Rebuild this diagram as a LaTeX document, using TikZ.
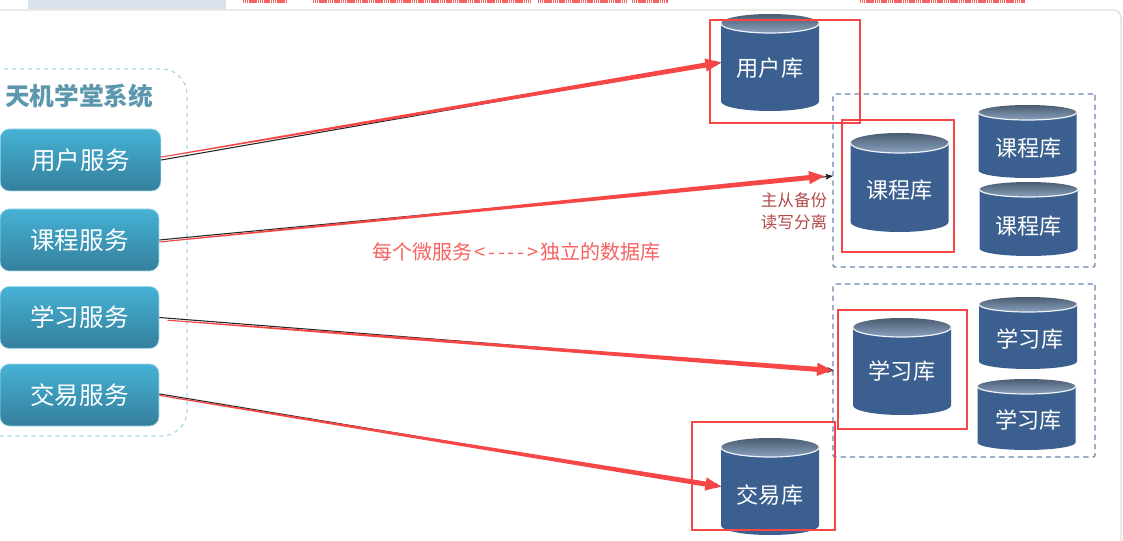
\documentclass[tikz,border=0pt]{standalone}
\usepackage{fontspec}
\setmainfont{Noto Sans CJK SC}
\usepackage{tikz}
\usetikzlibrary{arrows,calc,fit,positioning}
\definecolor{svctop}{HTML}{46B2D5}
\definecolor{svcbot}{HTML}{347F9C}
\definecolor{framecyan}{HTML}{A9D6E5}
\definecolor{titlecyan}{HTML}{5C97AD}
\definecolor{dbblue}{HTML}{3B5F8F}
\definecolor{dbdark}{HTML}{4A5C70}
\definecolor{dblight}{HTML}{8AA1BE}
\definecolor{dashblue}{HTML}{6A85AE}
\definecolor{markred}{HTML}{F64646}
\definecolor{notered}{HTML}{B24A4A}
\definecolor{stripblue}{HTML}{D9E2EA}
\tikzset{
  >=stealth',
  svcbox/.style={rectangle,rounded corners=7pt,draw=svctop!50!white,line width=0.5pt,top color=svctop,
                 bottom color=svcbot,text=white,minimum height=46.5pt,font=\fontsize{18.4}{22}\selectfont},
  dbtext/.style={text=white,font=\fontsize{16.6}{20}\selectfont},
  redframe/.style={rectangle,draw=markred,line width=1.5pt,inner sep=0pt},
  dashframe/.style={rectangle,rounded corners=1.5pt,draw=dashblue,line width=1pt,dash pattern=on 4pt off 3pt,inner sep=0pt},
  line/.style={draw=black!85,line width=0.8pt,->}
}
% cylinder: text shift, name, middle x, top y, bottom y, lid radius, text
\newcommand{\dbcyl}[7][]{
  \fill[dbblue] (#3-49,#4+#6) -- (#3-49,#5-#6) arc (180:0:49 and #6) -- (#3+49,#4+#6) -- cycle;
  \shade[top color=dbdark,bottom color=dblight] (#3,#4+#6) ellipse (49 and #6);
  \draw[white!92!dbblue,line width=0.9pt] (#3-49,#4+#6) arc (180:0:49 and #6);
  \node[fit={(#3-49,#4)(#3+49,#5)},inner sep=0pt] (#2) {};
  \node[dbtext,#1] (#2text) at ([yshift=-4.4pt]#2.center) {#7};
}
% red arrow getting thicker towards its tip
\newcommand{\redarrow}[2]{
  \coordinate (head) at ($(#2)!11.5pt!(#1)$);
  \fill[markred] ($(#1)!0.4pt!90:(#2)$) -- ($(head)!1.9pt!90:(#2)$) -- ($(head)!5pt!90:(#2)$) -- (#2)
    -- ($(head)!5pt!-90:(#2)$) -- ($(head)!1.9pt!-90:(#2)$) -- ($(#1)!0.4pt!-90:(#2)$) -- cycle;
}
\begin{document}
\begin{tikzpicture}[x=0.75pt,y=-0.75pt]
\useasboundingbox (0,0) rectangle (1123,541);
\fill[white] (0,0) rectangle (1123,541);
% page strip above the panel
\fill[stripblue] (28,0) rectangle (226,9);
\foreach \xa/\xb in {243/287,313/530,538/626,632/668,860/1025}
  \draw[markred!85!white,line width=2pt,dash pattern=on 1pt off 0.4pt] (\xa,1.5) -- (\xb,1.5);
\draw[black!12,line width=1pt,rounded corners=6pt] (-10,600) -- (-10,10) -- (1121,10) -- (1121,600);

% system frame
\draw[framecyan,line width=0.9pt,dashed,rounded corners=19pt] (-30,69) rectangle (187,436);
\node[text=titlecyan,font=\fontsize{18.5}{22}\selectfont\bfseries] (systitle) at (79,96) {天机学堂系统};
\node[svcbox,minimum width=120.5pt] (usersvc) at (80.5,160) {用户服务};
\node[svcbox,minimum width=119.2pt] (coursesvc) at (79.5,240) {课程服务};
\node[svcbox,minimum width=119.2pt] (learnsvc) at (79.5,317.5) {学习服务};
\node[svcbox,minimum width=119.2pt] (tradesvc) at (79.5,395) {交易服务};

% replica groups
\node[dashframe,fit={(833,94)(1095,267)}] (coursegroup) {};
\node[dashframe,fit={(833,284)(1095,457)}] (learngroup) {};

\dbcyl{userdb}{770}{14}{111}{9.5}{用户库}
\dbcyl[yshift=-1.5pt]{coursedb}{899.5}{133}{232}{10}{课程库}
\dbcyl[xshift=1pt,yshift=-0.7pt]{courseslavea}{1027.5}{105}{178}{7.5}{课程库}
\dbcyl[yshift=-0.7pt]{courseslaveb}{1028.5}{182}{256}{7.5}{课程库}
\dbcyl[yshift=0.7pt]{learndb}{902}{318}{415}{9.5}{学习库}
\dbcyl[xshift=1.5pt]{learnslavea}{1028}{297}{369}{7.5}{学习库}
\dbcyl[xshift=1.7pt]{learnslaveb}{1026.5}{379}{450}{7.5}{学习库}
\dbcyl[yshift=-2.2pt]{tradedb}{770}{438}{535}{9.5}{交易库}

% black lines under the red ones
\draw[line] (usersvc.east) -- (userdb.west);
\draw[line] (coursesvc.east) -- ([yshift=3.3pt]coursegroup.west);
\draw[line] (learnsvc.east) -- ([xshift=1pt]learngroup.west);
\draw[line] ([yshift=0.8pt]tradesvc.east) -- (tradedb.west);

\coordinate (userfrom) at ([yshift=2.2pt]usersvc.east);
\coordinate (coursefrom) at ([yshift=-1.5pt]coursesvc.east);
\coordinate (coursetip) at ([xshift=-6pt,yshift=3.3pt]coursegroup.west);
\coordinate (learnfrom) at ([xshift=6pt,yshift=-2pt]learnsvc.east);
\coordinate (tradefrom) at ([yshift=-0.3pt]tradesvc.east);
\redarrow{userfrom}{userdb.west}
\redarrow{coursefrom}{coursetip}
\redarrow{learnfrom}{learngroup.west}
\redarrow{tradefrom}{tradedb.west}

% texts
\node[text=markred!85!white,font=\fontsize{15}{18}\selectfont] (splitnote) at (516.5,252) {每个微服务\kern1pt<\kern2.2pt-\kern2.2pt-\kern2.2pt-\kern2.2pt-\kern2.2pt>\kern1pt独立的数据库};
\node[text=notered,font=\fontsize{12.4}{16.4}\selectfont,align=center] (replicanote) at (794,211) {主从备份\\读写分离};

% red marks
\node[redframe,fit={(709.5,20)(859.5,123)}] (userframe) {};
\node[redframe,fit={(842,120)(954,252)}] (courseframe) {};
\node[redframe,fit={(837.5,310)(967,429)}] (learnframe) {};
\node[redframe,fit={(692,422)(835,530)}] (tradeframe) {};
\end{tikzpicture}
\end{document}
